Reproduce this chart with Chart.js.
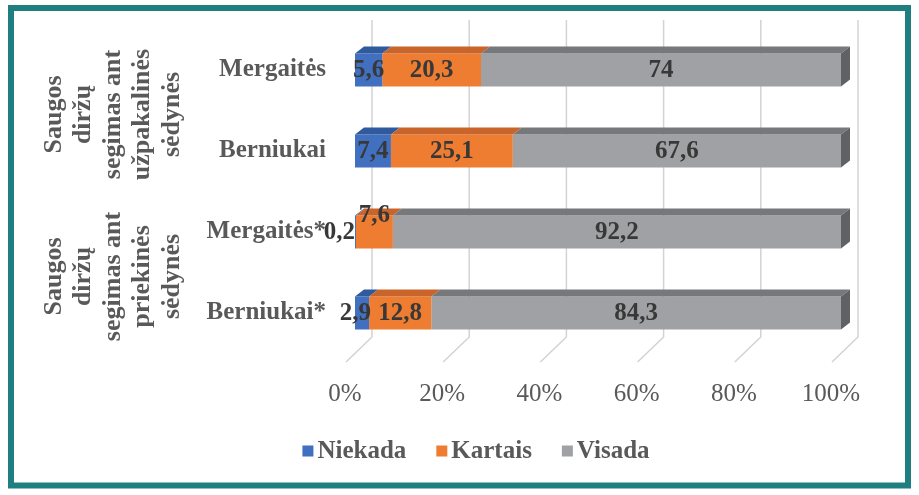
<!DOCTYPE html>
<html><head><meta charset="utf-8">
<script src="https://cdn.jsdelivr.net/npm/chart.js@4.4.1/dist/chart.umd.min.js"></script>
<style>html,body{margin:0;padding:0;background:#fff;overflow:hidden}canvas{display:block}</style>
</head><body>
<canvas id="c" width="919" height="495"></canvas>
<script>
// ---- data ----
const categories = ['Mergaitės', 'Berniukai', 'Mergaitės*', 'Berniukai*'];
const groupLabels = [
  ['Saugos', 'diržų', 'segimas ant', 'užpakalinės', 'sėdynės'],
  ['Saugos', 'diržų', 'segimas ant', 'priekinės', 'sėdynės']
];
const seriesNames = ['Niekada', 'Kartais', 'Visada'];
const niekada = [5.6, 7.4, 0.2, 2.9];
const kartais = [20.3, 25.1, 7.6, 12.8];
const visada = [74, 67.6, 92.2, 84.3];
const xTickValues = [0, 20, 40, 60, 80, 100];

// ---- styles ----
const frontColors = ['#4170c0', '#ee7d31', '#9fa1a4'];
const topColors = ['#2f5a9e', '#c9652a', '#76787b'];
const sideColor = '#5f6164';
const textGrey = '#595959';
const serif = '"Liberation Serif", "Times New Roman", serif';

const raw = [niekada, kartais, visada];
const totals = categories.map((_, i) => niekada[i] + kartais[i] + visada[i]);
// 100% stacked: normalise each row
const datasets = raw.map((arr, s) => ({
  label: seriesNames[s],
  data: arr.map((v, i) => v / totals[i] * 100),
  rawValues: arr,
  backgroundColor: frontColors[s],
  borderWidth: 0,
  barPercentage: 0.41,
  categoryPercentage: 1
}));

// special label placements (dataset index, data index)
const labelPlacement = {
  '0:2': { mode: 'leftOf', dx: 0 },
  '1:2': { mode: 'above', dy: -16 },
  '0:3': { mode: 'rightAt', dx: 2 }
};

const DX = 9, DY = 7;       // bar depth
const WX = 17, FY = 337, FDX = -9, FDY = 362, GTOP = 20;

const threeD = {
  id: 'threeD',
  beforeDraw(chart) {
    const ctx = chart.ctx;
    ctx.save();
    ctx.fillStyle = '#fff';
    ctx.fillRect(0, 0, chart.width, chart.height);
    ctx.strokeStyle = '#1f7f80';
    ctx.lineWidth = 6;
    ctx.strokeRect(11, 8, 897, 477.5);
    ctx.restore();
  },
  beforeDatasetsDraw(chart) {
    const ctx = chart.ctx, xs = chart.scales.x;
    ctx.save();
    ctx.strokeStyle = '#d3d3d3';
    ctx.lineWidth = 1.5;
    xTickValues.forEach(v => {
      const px = xs.getPixelForValue(v);
      ctx.beginPath();
      ctx.moveTo(px + WX, GTOP);
      ctx.lineTo(px + WX, FY);
      ctx.lineTo(px + FDX, FDY);
      ctx.stroke();
    });
    ctx.restore();
  },
  afterDatasetsDraw(chart) {
    const ctx = chart.ctx;
    ctx.save();
    const nds = chart.data.datasets.length;
    chart.data.datasets.forEach((ds, s) => {
      const meta = chart.getDatasetMeta(s);
      meta.data.forEach((el, i) => {
        const left = Math.min(el.base, el.x), right = Math.max(el.base, el.x);
        const top = el.y - el.height / 2, bottom = el.y + el.height / 2;
        ctx.fillStyle = topColors[s];
        ctx.beginPath();
        ctx.moveTo(left, top);
        ctx.lineTo(left + DX, top - DY);
        ctx.lineTo(right + DX, top - DY);
        ctx.lineTo(right, top);
        ctx.closePath();
        ctx.fill();
        if (s === nds - 1) {
          ctx.fillStyle = sideColor;
          ctx.beginPath();
          ctx.moveTo(right, top);
          ctx.lineTo(right + DX, top - DY);
          ctx.lineTo(right + DX, bottom - DY);
          ctx.lineTo(right, bottom);
          ctx.closePath();
          ctx.fill();
        }
      });
    });
    // data labels
    ctx.font = 'bold 25px ' + serif;
    ctx.fillStyle = '#383838';
    ctx.textBaseline = 'middle';
    chart.data.datasets.forEach((ds, s) => {
      const meta = chart.getDatasetMeta(s);
      meta.data.forEach((el, i) => {
        const txt = String(ds.rawValues[i]).replace('.', ',');
        const left = Math.min(el.base, el.x), right = Math.max(el.base, el.x);
        const p = labelPlacement[s + ':' + i];
        let x = (left + right) / 2, y = el.y + 1, align = 'center';
        if (p && p.mode === 'leftOf') { x = left + p.dx; align = 'right'; }
        if (p && p.mode === 'rightAt') { x = right + p.dx; align = 'right'; }
        if (p && p.mode === 'above') { y = el.y + p.dy; }
        ctx.textAlign = align;
        ctx.fillText(txt, x, y);
      });
    });
    // group labels (rotated)
    const ys = chart.scales.y;
    ctx.font = 'bold 26px ' + serif;
    ctx.fillStyle = textGrey;
    ctx.textAlign = 'center';
    ctx.textBaseline = 'middle';
    groupLabels.forEach((lines, g) => {
      const cy = (ys.getPixelForValue(2 * g) + ys.getPixelForValue(2 * g + 1)) / 2 + 4;
      const cx = 113;
      ctx.save();
      ctx.translate(cx, cy);
      ctx.rotate(-Math.PI / 2);
      lines.forEach((ln, k) => ctx.fillText(ln, 0, (k - (lines.length - 1) / 2) * 29.5));
      ctx.restore();
    });
    // legend
    ctx.font = 'bold 25px ' + serif;
    ctx.textAlign = 'left';
    ctx.textBaseline = 'middle';
    const box = 11, gapT = 4, gapI = 30, ly = 452;
    const widths = seriesNames.map(n => box + gapT + ctx.measureText(n).width);
    const total = widths.reduce((a, b) => a + b, 0) + gapI * (widths.length - 1);
    let lx = 476 - total / 2;
    seriesNames.forEach((n, s) => {
      ctx.fillStyle = frontColors[s];
      ctx.fillRect(lx, ly - box / 2 - 1, box, box);
      ctx.fillStyle = textGrey;
      ctx.fillText(n, lx + box + gapT, ly);
      lx += widths[s] + gapI;
    });
    ctx.restore();
  }
};

new Chart(document.getElementById('c'), {
  type: 'bar',
  data: { labels: categories, datasets },
  options: {
    indexAxis: 'y',
    responsive: false,
    animation: false,
    devicePixelRatio: 1,
    layout: { padding: { left: 0, right: 78, top: 29.5, bottom: 0 } },
    plugins: { legend: { display: false }, tooltip: { enabled: false } },
    scales: {
      x: {
        stacked: true, min: 0, max: 100,
        afterBuildTicks: s => { s.ticks = xTickValues.map(v => ({ value: v })); },
        afterFit: s => { s.height = 495 - 353.5; },
        grid: { display: false, drawTicks: false },
        border: { display: false },
        ticks: {
          callback: v => v + '%',
          font: { family: serif, size: 25 },
          color: textGrey,
          labelOffset: -10,
          padding: 26,
          maxRotation: 0
        }
      },
      y: {
        stacked: true,
        afterFit: s => { s.width = 355; },
        grid: { display: false, drawTicks: true, tickLength: 29 },
        border: { display: false },
        ticks: {
          font: { family: serif, size: 25, weight: 'bold' },
          color: textGrey,
          padding: 0
        }
      }
    }
  },
  plugins: [threeD]
});
</script>
</body></html>
